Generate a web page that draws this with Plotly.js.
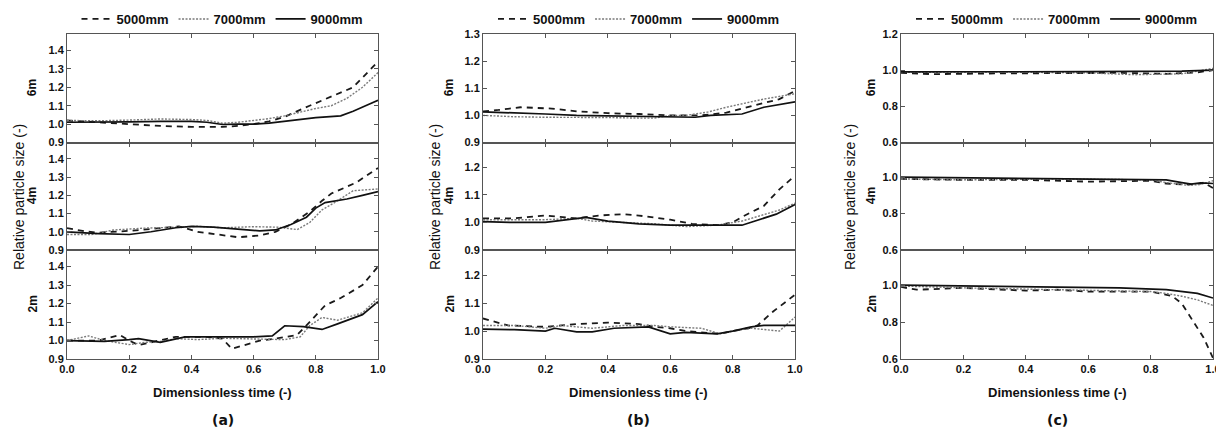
<!DOCTYPE html>
<html><head><meta charset="utf-8">
<script src="https://cdn.plot.ly/plotly-3.0.1.min.js"></script>
<style>html,body{margin:0;padding:0;background:#fff}#chart{width:1216px;height:430px}</style>
</head><body><div id="chart"></div>
<script>
// ---------- DATA ----------
const seriesNames = ['5000mm','7000mm','9000mm'];
const heightLabels = ['6m','4m','2m'];
const panelLabels = ['(a)','(b)','(c)'];
const xTitle = 'Dimensionless time (-)';
const yTitle = 'Relative particle size (-)';
const xTickVals = [0,0.2,0.4,0.6,0.8,1.0];

// Panel (a) 6m
const a6_5000_x = [0,0.1,0.2,0.3,0.4,0.5,0.55,0.6,0.65,0.7,0.78,0.85,0.92,1.0];
const a6_5000_y = [1.02,1.01,1.0,0.99,0.985,0.985,0.99,1.0,1.015,1.04,1.1,1.15,1.2,1.34];
const a6_7000_x = [0,0.1,0.2,0.3,0.4,0.45,0.5,0.55,0.6,0.65,0.7,0.8,0.85,0.9,0.95,1.0];
const a6_7000_y = [1.02,1.018,1.022,1.028,1.025,1.02,1.005,1.01,1.02,1.03,1.045,1.085,1.1,1.14,1.2,1.28];
const a6_9000_x = [0,0.1,0.2,0.3,0.4,0.45,0.5,0.55,0.6,0.65,0.7,0.8,0.88,0.92,0.96,1.0];
const a6_9000_y = [1.01,1.01,1.012,1.015,1.015,1.01,0.998,1.0,1.0,1.005,1.015,1.035,1.045,1.07,1.1,1.13];
// Panel (a) 4m
const a4_5000_x = [0,0.05,0.1,0.2,0.3,0.36,0.42,0.5,0.55,0.62,0.67,0.72,0.78,0.82,0.85,0.93,1.0];
const a4_5000_y = [1.02,1.005,0.995,1.005,1.02,1.03,1.0,0.98,0.97,0.98,1.0,1.04,1.11,1.17,1.21,1.27,1.35];
const a4_7000_x = [0,0.08,0.15,0.25,0.35,0.42,0.5,0.6,0.68,0.74,0.78,0.82,0.86,0.92,1.0];
const a4_7000_y = [0.985,0.985,1.01,1.02,1.025,1.03,1.022,1.028,1.025,1.012,1.05,1.12,1.16,1.225,1.235];
const a4_9000_x = [0,0.1,0.2,0.27,0.35,0.4,0.47,0.55,0.62,0.67,0.72,0.77,0.8,0.83,0.9,0.95,1.0];
const a4_9000_y = [1.0,0.99,0.985,1.0,1.022,1.03,1.025,1.015,1.005,1.01,1.04,1.08,1.13,1.16,1.18,1.2,1.22];
// Panel (a) 2m
const a2_5000_x = [0,0.1,0.17,0.2,0.23,0.3,0.35,0.45,0.5,0.53,0.58,0.62,0.67,0.74,0.78,0.83,0.88,0.95,1.0];
const a2_5000_y = [1.0,1.0,1.03,1.0,0.975,1.0,1.02,1.02,1.01,0.955,0.98,1.0,1.01,1.03,1.1,1.19,1.23,1.3,1.4];
const a2_7000_x = [0,0.07,0.12,0.2,0.25,0.3,0.35,0.42,0.5,0.6,0.7,0.75,0.78,0.82,0.87,0.95,1.0];
const a2_7000_y = [1.0,1.025,1.0,0.978,0.99,0.995,1.01,1.005,1.012,1.01,1.005,1.02,1.08,1.125,1.11,1.15,1.23];
const a2_9000_x = [0,0.12,0.2,0.23,0.3,0.38,0.5,0.6,0.66,0.7,0.76,0.82,0.87,0.95,1.0];
const a2_9000_y = [1.0,0.995,1.005,1.01,0.99,1.02,1.02,1.02,1.025,1.08,1.075,1.06,1.09,1.14,1.21];

// Panel (b) 6m
const b6_5000_x = [0,0.05,0.12,0.22,0.3,0.4,0.5,0.6,0.7,0.78,0.83,0.88,0.95,1.0];
const b6_5000_y = [1.015,1.02,1.03,1.025,1.015,1.008,1.005,1.0,1.0,1.01,1.025,1.04,1.06,1.09];
const b6_7000_x = [0,0.1,0.2,0.3,0.4,0.5,0.55,0.6,0.65,0.72,0.78,0.84,0.9,1.0];
const b6_7000_y = [1.0,0.995,0.993,0.993,0.992,0.99,0.99,1.0,1.0,1.012,1.03,1.045,1.06,1.08];
const b6_9000_x = [0,0.1,0.2,0.3,0.4,0.5,0.6,0.68,0.73,0.83,0.9,1.0];
const b6_9000_y = [1.013,1.01,1.005,1.0,0.998,0.995,0.993,0.993,1.0,1.005,1.03,1.05];
// Panel (b) 4m
const b4_5000_x = [0,0.1,0.2,0.3,0.37,0.45,0.5,0.6,0.67,0.75,0.8,0.83,0.9,0.95,1.0];
const b4_5000_y = [1.015,1.015,1.025,1.015,1.025,1.03,1.025,1.01,0.995,0.99,1.0,1.02,1.06,1.12,1.17];
const b4_7000_x = [0,0.1,0.2,0.3,0.35,0.45,0.55,0.65,0.75,0.83,0.9,0.95,1.0];
const b4_7000_y = [1.01,1.01,1.01,1.015,1.005,1.0,0.995,0.985,0.99,1.005,1.03,1.045,1.07];
const b4_9000_x = [0,0.1,0.2,0.33,0.4,0.5,0.6,0.7,0.83,0.94,1.0];
const b4_9000_y = [1.003,1.0,1.0,1.018,1.005,0.995,0.99,0.99,0.99,1.03,1.065];
// Panel (b) 2m
const b2_5000_x = [0,0.08,0.2,0.3,0.4,0.5,0.55,0.6,0.65,0.72,0.76,0.8,0.85,0.88,0.93,1.0];
const b2_5000_y = [1.045,1.02,1.015,1.025,1.03,1.025,1.015,1.01,1.0,0.995,0.99,1.0,1.01,1.02,1.07,1.13];
const b2_7000_x = [0,0.1,0.2,0.25,0.3,0.35,0.45,0.55,0.6,0.7,0.76,0.8,0.86,0.9,0.95,1.0];
const b2_7000_y = [1.02,1.02,1.01,1.02,1.015,1.01,1.02,1.02,1.015,1.01,0.99,1.0,1.01,1.005,1.0,1.05];
const b2_9000_x = [0,0.1,0.2,0.23,0.3,0.35,0.42,0.5,0.53,0.6,0.65,0.75,0.8,0.86,0.9,1.0];
const b2_9000_y = [1.007,1.005,1.0,1.01,0.997,0.997,1.01,1.015,1.015,0.99,0.995,0.99,1.0,1.015,1.02,1.02];

// Panel (c) 6m
const c6_5000_x = [0,0.1,0.3,0.5,0.7,0.85,0.95,1.0];
const c6_5000_y = [0.985,0.978,0.982,0.985,0.985,0.98,0.988,1.0];
const c6_7000_x = [0,0.3,0.6,0.75,0.9,0.97,1.0];
const c6_7000_y = [0.988,0.99,0.985,0.975,0.98,1.0,1.01];
const c6_9000_x = [0,0.3,0.6,0.9,1.0];
const c6_9000_y = [0.99,0.99,0.992,0.995,1.0];
// Panel (c) 4m
const c4_5000_x = [0,0.2,0.4,0.6,0.8,0.85,0.9,0.95,0.97,1.0];
const c4_5000_y = [0.99,0.985,0.985,0.975,0.98,0.965,0.96,0.96,0.97,0.94];
const c4_7000_x = [0,0.2,0.5,0.8,0.85,0.92,0.96,1.0];
const c4_7000_y = [0.99,0.985,0.99,0.985,0.97,0.955,0.96,0.98];
const c4_9000_x = [0,0.3,0.6,0.85,0.9,0.93,0.96,1.0];
const c4_9000_y = [1.0,0.995,0.99,0.985,0.97,0.962,0.968,0.965];
// Panel (c) 2m
const c2_5000_x = [0,0.05,0.2,0.4,0.5,0.6,0.8,0.87,0.9,0.935,0.97,1.0];
const c2_5000_y = [0.99,0.975,0.985,0.97,0.975,0.965,0.965,0.94,0.9,0.805,0.715,0.605];
const c2_7000_x = [0,0.2,0.5,0.7,0.8,0.85,0.9,0.95,1.0];
const c2_7000_y = [0.995,0.985,0.975,0.97,0.965,0.955,0.94,0.92,0.89];
const c2_9000_x = [0,0.2,0.5,0.7,0.85,0.9,0.95,1.0];
const c2_9000_y = [1.0,0.995,0.99,0.985,0.975,0.965,0.955,0.93];

// y tick values per panel / row
const aTicks = [0.9,1.0,1.1,1.2,1.3,1.4];
const b6Ticks = [0.9,1.0,1.1,1.2,1.3];
const bTicks = [0.9,1.0,1.1,1.2];
const c6Ticks = [0.6,0.8,1.0,1.2];
const cTicks = [0.6,0.8,1.0];

// ---------- assembly ----------
const table = [
  [ [[a6_5000_x,a6_5000_y],[a6_7000_x,a6_7000_y],[a6_9000_x,a6_9000_y]],
    [[a4_5000_x,a4_5000_y],[a4_7000_x,a4_7000_y],[a4_9000_x,a4_9000_y]],
    [[a2_5000_x,a2_5000_y],[a2_7000_x,a2_7000_y],[a2_9000_x,a2_9000_y]] ],
  [ [[b6_5000_x,b6_5000_y],[b6_7000_x,b6_7000_y],[b6_9000_x,b6_9000_y]],
    [[b4_5000_x,b4_5000_y],[b4_7000_x,b4_7000_y],[b4_9000_x,b4_9000_y]],
    [[b2_5000_x,b2_5000_y],[b2_7000_x,b2_7000_y],[b2_9000_x,b2_9000_y]] ],
  [ [[c6_5000_x,c6_5000_y],[c6_7000_x,c6_7000_y],[c6_9000_x,c6_9000_y]],
    [[c4_5000_x,c4_5000_y],[c4_7000_x,c4_7000_y],[c4_9000_x,c4_9000_y]],
    [[c2_5000_x,c2_5000_y],[c2_7000_x,c2_7000_y],[c2_9000_x,c2_9000_y]] ]
];
const yRanges = [
  [[0.9,1.49],[0.9,1.49],[0.9,1.49]],
  [[0.9,1.3],[0.9,1.29],[0.9,1.29]],
  [[0.6,1.2],[0.6,1.19],[0.6,1.19]]
];
const yTicks = [[aTicks,aTicks,aTicks],[b6Ticks,bTicks,bTicks],[c6Ticks,cTicks,cTicks]];

const W = 1216, H = 430;
const FONT = 'Liberation Sans, Arial, sans-serif';
const panelX = [[67,378],[483,795],[901,1213]];
const rowY = [[34,142.5],[142.5,250],[250,359]];
const yTitleX = [19,435,850];
const rowLabelX = [32,449,871];
const styles = [
  {dash:'6px,5px', color:'#1a1a1a', width:1.8},
  {dash:'2px,1.5px', color:'#7a7a7a', width:1.4},
  {dash:'solid', color:'#111111', width:1.7}
];
const legendNames = ['legend','legend2','legend3'];

const data = [];
const layout = {
  width: W, height: H,
  margin: {l:0, r:0, t:0, b:0},
  paper_bgcolor: '#ffffff', plot_bgcolor: '#ffffff',
  font: {family: FONT, color: '#111'},
  annotations: []
};
const fx = x => x / W, fy = y => 1 - y / H;

for (let p = 0; p < 3; p++) {
  for (let r = 0; r < 3; r++) {
    const idx = p * 3 + r + 1;
    const xa = idx === 1 ? 'x' : 'x' + idx;
    const ya = idx === 1 ? 'y' : 'y' + idx;
    const xk = idx === 1 ? 'xaxis' : 'xaxis' + idx;
    const yk = idx === 1 ? 'yaxis' : 'yaxis' + idx;
    layout[xk] = {
      domain: [fx(panelX[p][0]), fx(panelX[p][1])],
      anchor: ya, range: [0, 1],
      tickvals: xTickVals, tickformat: '.1f',
      ticks: 'inside', ticklen: 4, tickwidth: 1, tickcolor: '#555',
      mirror: 'ticks', showline: true, linecolor: '#555', linewidth: 1,
      showgrid: false, zeroline: false,
      showticklabels: r === 2, ticklabeloverflow: 'allow',
      tickfont: {family: FONT, size: 11, weight: 'bold', color: '#111'}
    };
    layout[yk] = {
      domain: [fy(rowY[r][1]), fy(rowY[r][0])],
      anchor: xa, range: yRanges[p][r],
      tickvals: yTicks[p][r], tickformat: '.1f',
      ticks: 'inside', ticklen: 4, tickwidth: 1, tickcolor: '#555',
      mirror: 'ticks', showline: true, linecolor: '#555', linewidth: 1,
      showgrid: false, zeroline: false,
      tickfont: {family: FONT, size: 11, weight: 'bold', color: '#111'}
    };
    for (let s = 0; s < 3; s++) {
      const [xs, ys] = table[p][r][s];
      data.push({
        type: 'scatter', mode: 'lines', x: xs, y: ys,
        xaxis: xa, yaxis: ya, name: seriesNames[s],
        line: {dash: styles[s].dash, color: styles[s].color, width: styles[s].width},
        showlegend: r === 0, legend: legendNames[p], hoverinfo: 'skip'
      });
    }
    layout.annotations.push({
      xref: 'paper', yref: 'paper', x: fx(rowLabelX[p]), y: fy((rowY[r][0] + rowY[r][1]) / 2),
      text: heightLabels[r], textangle: -90, showarrow: false,
      xanchor: 'center', yanchor: 'middle',
      font: {family: FONT, size: 12, weight: 'bold', color: '#111'}
    });
  }
  const cx = (panelX[p][0] + panelX[p][1]) / 2;
  layout.annotations.push({
    xref: 'paper', yref: 'paper', x: fx(yTitleX[p]), y: fy(197),
    text: yTitle, textangle: -90, showarrow: false, xanchor: 'center', yanchor: 'middle',
    font: {family: FONT, size: 14, color: '#111'}
  });
  layout.annotations.push({
    xref: 'paper', yref: 'paper', x: fx(cx), y: fy(392),
    text: xTitle, showarrow: false, xanchor: 'center', yanchor: 'middle',
    font: {family: FONT, size: 13, weight: 'bold', color: '#111'}
  });
  layout.annotations.push({
    xref: 'paper', yref: 'paper', x: fx(cx), y: fy(420),
    text: panelLabels[p], showarrow: false, xanchor: 'center', yanchor: 'middle',
    font: {family: 'DejaVu Sans, sans-serif', size: 14, weight: 'bold', color: '#111'}
  });
  layout[legendNames[p]] = {
    orientation: 'h', x: fx(cx), xanchor: 'center', y: fy(19), yanchor: 'middle',
    bgcolor: 'rgba(0,0,0,0)', borderwidth: 0, itemwidth: 30,
    font: {family: FONT, size: 13, weight: 'bold', color: '#111'},
    itemclick: false, itemdoubleclick: false
  };
}

Plotly.newPlot('chart', data, layout, {staticPlot: true, displayModeBar: false});
</script>
</body></html>
